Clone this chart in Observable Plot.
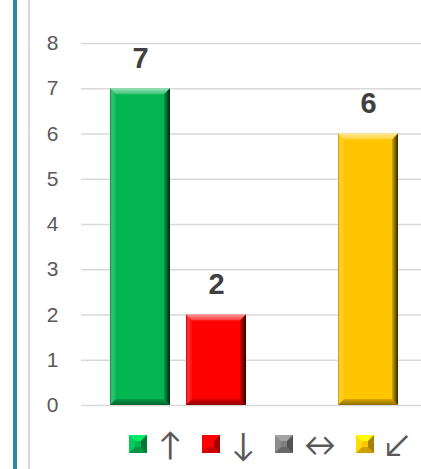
<!DOCTYPE html>
<html><head><meta charset="utf-8">
<script src="https://cdn.jsdelivr.net/npm/d3@7"></script>
<script src="https://cdn.jsdelivr.net/npm/@observablehq/plot@0.6"></script>
<style>
body{margin:0;background:#fff;}
#wrap{position:relative;width:421px;height:469px;overflow:hidden;font-family:"Liberation Sans",Arial,sans-serif;}
#edge1{position:absolute;top:0;bottom:0;left:13px;width:4px;background:#31879f;}
#edge2{position:absolute;top:0;bottom:0;left:28px;width:2px;background:#d9d9d9;}
#chart{position:absolute;left:0;top:0;}
#legend{position:absolute;top:428px;left:129px;display:flex;align-items:center;height:32px;}
.item{display:flex;align-items:center;margin-right:20px;}
.sw{width:18px;height:18px;box-sizing:border-box;border:6px solid;margin-right:11px;}
.ar{font-family:"Lato",sans-serif;font-size:32px;color:#595959;line-height:32px;}
</style></head>
<body><div id="wrap"><div id="edge1"></div><div id="edge2"></div><div id="chart"></div><div id="legend"></div></div>
<script>
const categories = ["↑", "↓", "↔", "↙"];
const values = [7, 2, 0, 6];
const colors = ["#04b652", "#ff0000", "#808080", "#ffc600"];
const yTicks = [0, 1, 2, 3, 4, 5, 6, 7, 8];

const data = categories.map((c, i) => ({cat: c, value: values[i]}));

const svg = Plot.plot({
  width: 421, height: 469,
  marginLeft: 81, marginRight: 0, marginTop: 43, marginBottom: 64,
  style: {fontFamily: "Liberation Sans, Arial, sans-serif", fontSize: "21px", color: "#595959", background: "transparent"},
  x: {domain: categories, range: [100.7, 407.3], paddingInner: 0.21, paddingOuter: 0.105, axis: null},
  y: {domain: [0, 8]},
  color: {domain: categories, range: colors},
  marks: [
    Plot.ruleY(yTicks, {stroke: "#d9d9d9", strokeWidth: 1.5}),
    Plot.axisY(yTicks, {tickSize: 0, tickPadding: 23, label: null}),
    Plot.barY(data, {x: "cat", y: "value", fill: "cat"}),
    Plot.text(data.filter(d => d.value > 0), {x: "cat", y: "value", text: d => String(d.value), dy: -30, fontSize: 29, fontWeight: "bold", fill: "#404040"})
  ]
});
document.getElementById("chart").appendChild(svg);

// bevel effect on bars
const ns = "http://www.w3.org/2000/svg";
const defs = document.createElementNS(ns, "defs");
defs.innerHTML = `
<linearGradient id="gTop" x1="0" y1="0" x2="0" y2="1"><stop offset="0" stop-color="#fff" stop-opacity="0.6"/><stop offset="1" stop-color="#fff" stop-opacity="0.2"/></linearGradient>
<linearGradient id="gLeft" x1="0" y1="0" x2="1" y2="0"><stop offset="0" stop-color="#000" stop-opacity="0.25"/><stop offset="0.3" stop-color="#fff" stop-opacity="0.2"/><stop offset="1" stop-color="#fff" stop-opacity="0.05"/></linearGradient>
<linearGradient id="gRight" x1="1" y1="0" x2="0" y2="0"><stop offset="0" stop-color="#000" stop-opacity="0.8"/><stop offset="1" stop-color="#000" stop-opacity="0.15"/></linearGradient>
<linearGradient id="gBot" x1="0" y1="1" x2="0" y2="0"><stop offset="0" stop-color="#000" stop-opacity="0.45"/><stop offset="1" stop-color="#000" stop-opacity="0.15"/></linearGradient>`;
svg.insertBefore(defs, svg.firstChild);
svg.querySelectorAll('g[aria-label="bar"] rect').forEach(r => {
  const x = +r.getAttribute("x"), y = +r.getAttribute("y");
  const w = +r.getAttribute("width"), h = +r.getAttribute("height");
  if (!(h > 0)) return;
  const b = Math.min(6, h / 2);
  const g = r.parentNode;
  const add = (pts, fill) => {
    const p = document.createElementNS(ns, "polygon");
    p.setAttribute("points", pts.map(q => q.join(",")).join(" "));
    p.setAttribute("fill", fill);
    g.appendChild(p);
  };
  add([[x, y], [x + w, y], [x + w - b, y + b], [x + b, y + b]], "url(#gTop)");
  add([[x, y], [x + b, y + b], [x + b, y + h - b], [x, y + h]], "url(#gLeft)");
  add([[x + w, y], [x + w, y + h], [x + w - b, y + h - b], [x + w - b, y + b]], "url(#gRight)");
  add([[x, y + h], [x + b, y + h - b], [x + w - b, y + h - b], [x + w, y + h]], "url(#gBot)");
});

// legend
const legend = document.getElementById("legend");
categories.forEach((c, i) => {
  const base = d3.color(colors[i]);
  const item = document.createElement("div");
  item.className = "item";
  const sw = document.createElement("div");
  sw.className = "sw";
  sw.style.background = colors[i];
  sw.style.borderTopColor = base.brighter(0.7).formatHex();
  sw.style.borderLeftColor = base.brighter(0.3).formatHex();
  sw.style.borderRightColor = base.darker(1.2).formatHex();
  sw.style.borderBottomColor = base.darker(0.6).formatHex();
  const ar = document.createElement("span");
  ar.className = "ar";
  ar.textContent = c;
  item.appendChild(sw);
  item.appendChild(ar);
  legend.appendChild(item);
});
</script></body></html>
